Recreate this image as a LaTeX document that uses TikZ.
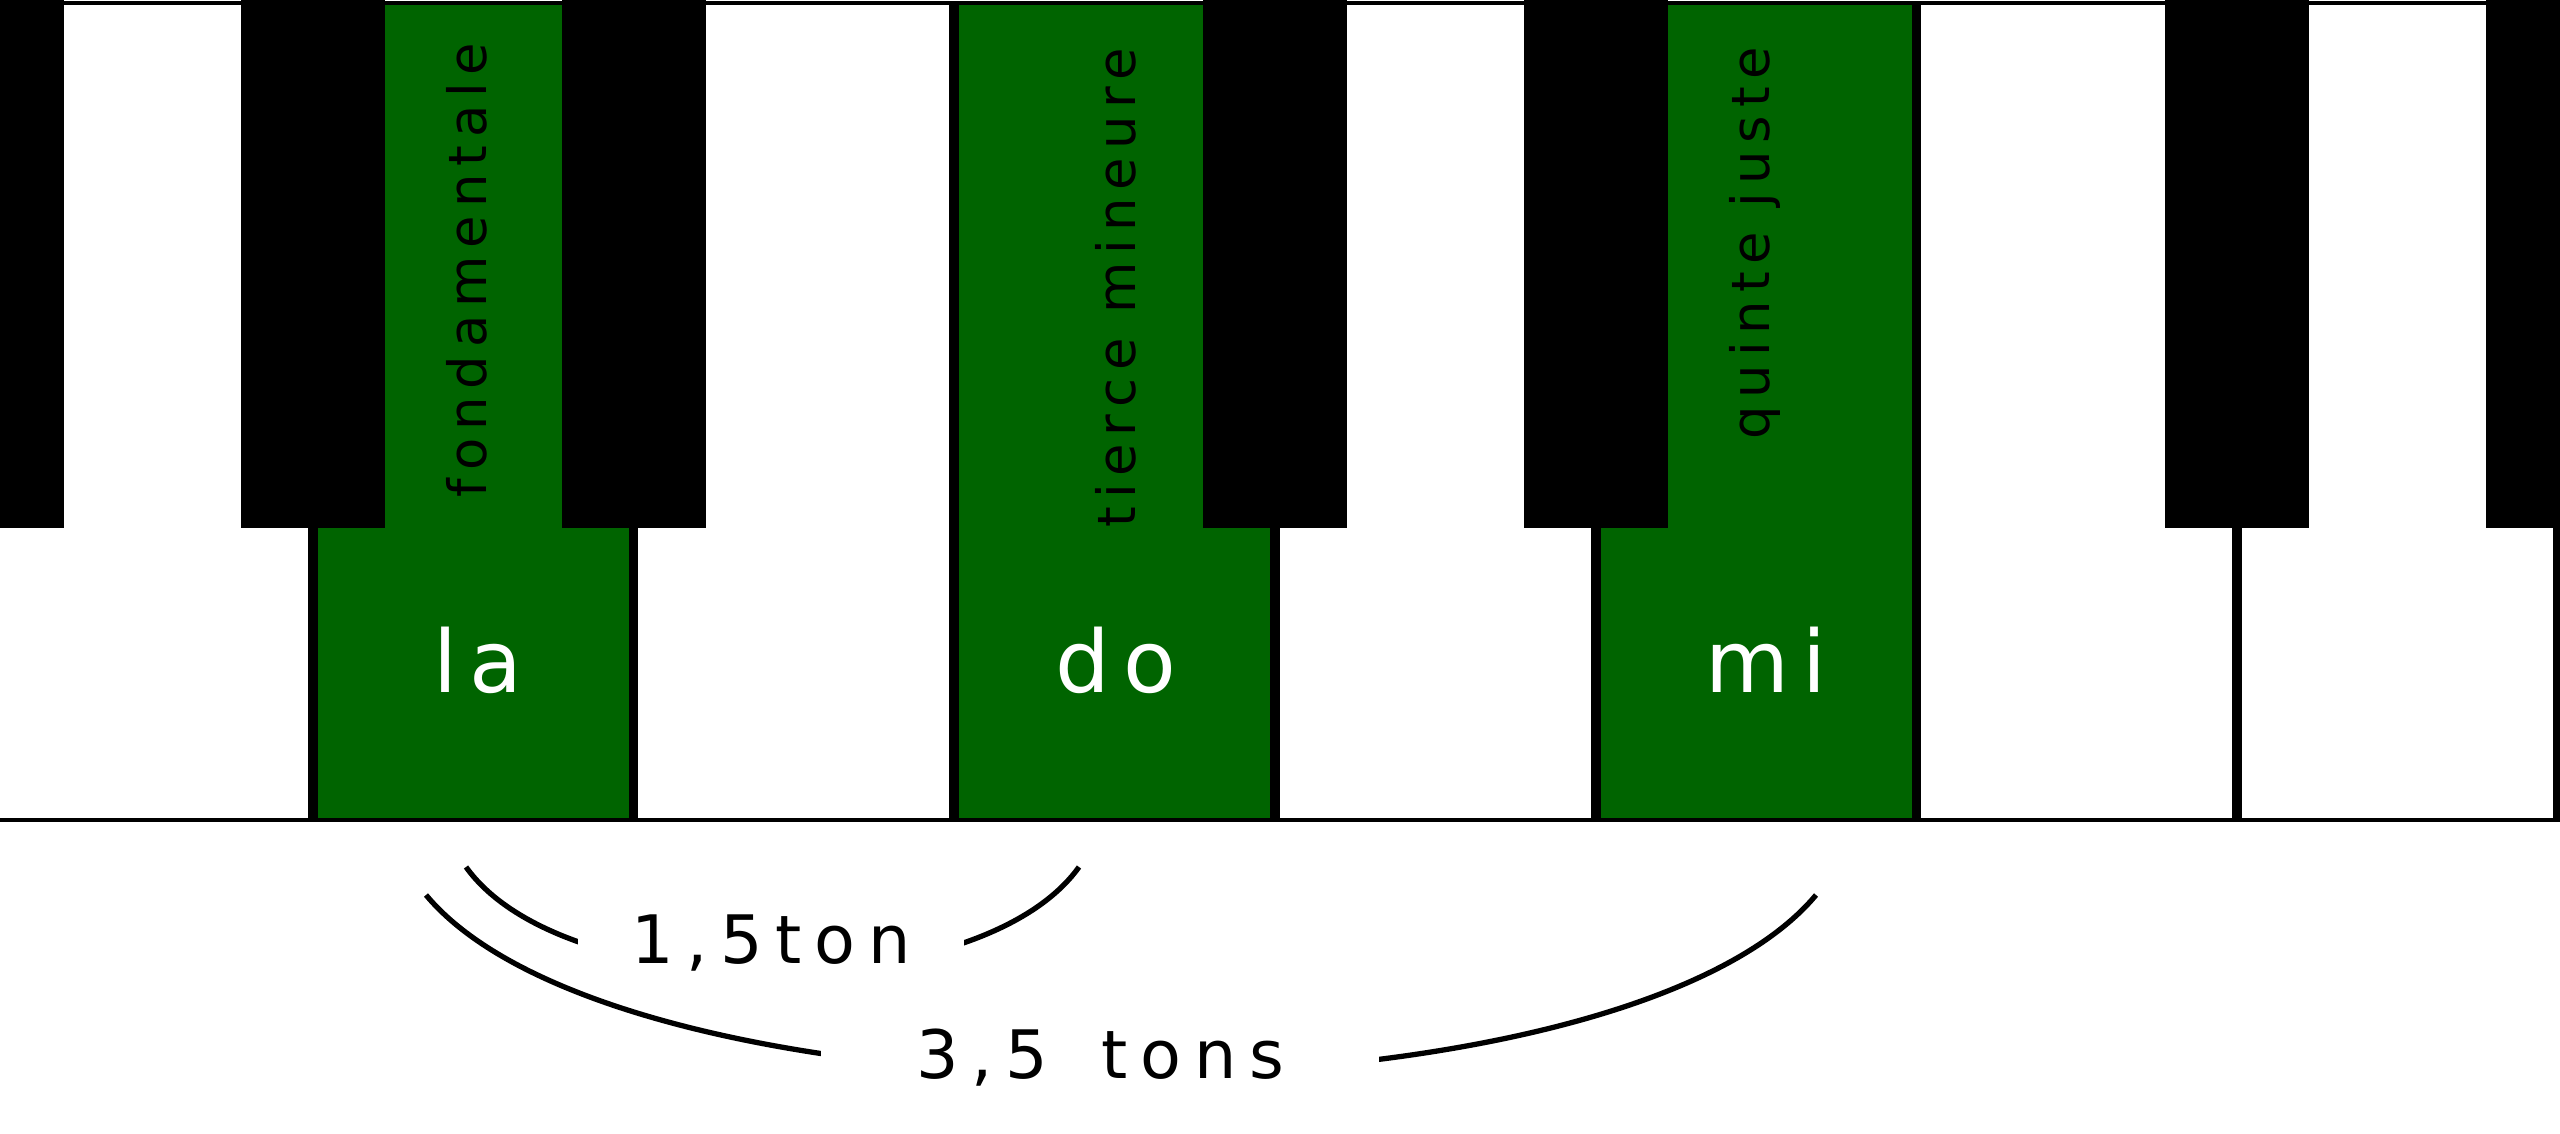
\documentclass[tikz,border=0pt]{standalone}
\usepackage{fontspec}
\setmainfont{DejaVu Sans}
\newfontfamily\notafont[LetterSpace=15]{DejaVu Sans}
\newfontfamily\intfont[LetterSpace=19]{DejaVu Sans}
\definecolor{verde}{RGB}{0,100,0}

\begin{document}
\begin{tikzpicture}[x=0.01cm, y=-0.01cm,
  blanca/.style={draw=black, line width=1.4pt},
  negra/.style={fill=black},
  nota/.style={text=white, font=\notafont\fontsize{24.5}{29}\selectfont, inner sep=0pt, anchor=base},
  grado/.style={font=\notafont\fontsize{15}{18}\selectfont, rotate=90, anchor=base east, inner sep=0pt},
  intervalo/.style={fill=white, font=\intfont\fontsize{19}{23}\selectfont, anchor=base, inner ysep=2pt},
  arco/.style={line width=1.5pt}]

  % Marco
  \useasboundingbox (0,0) rectangle (2560,1134);
  \clip (0,0) rectangle (2560,1134);
  \fill[white] (0,0) rectangle (2560,1134);

  % Teclas blancas (sol la si do re mi fa sol)
  \foreach \i/\c in {0/white,1/verde,2/white,3/verde,4/white,5/verde,6/white,7/white}
    \filldraw[blanca, fill=\c] ({-8+320.75*\i},3) rectangle ({-8+320.75*(\i+1)},820);
  \foreach \i in {1,...,8}
    \draw[line width=2.8pt] ({-8+320.75*\i},3) -- ({-8+320.75*\i},820);

  % Teclas negras
  \foreach \i in {0,1,2,4,5,7,8}
    \fill[negra] ({-8+320.75*\i-72},-5) rectangle ({-8+320.75*\i+72},528);

  % Notas
  \node[nota] (la) at (478,693) {la};
  \node[nota] (do) at (1116,693) {do};
  \node[nota] (mi) at (1766,693) {mi};

  % Grados
  \node[grado] (fund) at (486,42) {fondamentale};
  \node[grado] (tierce) at (1135,47) {tierce mineure};
  \node[grado] (quinte) at (1769,46) {quinte juste};

  % Intervalos
  \coordinate (la1) at (466,867);
  \coordinate (do1) at (1079,867);
  \coordinate (la2) at (426,895);
  \coordinate (mi2) at (1816,895);
  \draw[arco] (la1) .. controls (566,1007) and (979,1007) .. (do1);
  \draw[arco] (la2) .. controls (626,1135) and (1616,1135) .. (mi2);
  \node[intervalo, inner xsep=0.53cm] (ton) at (771,963) {1,5ton};
  \node[intervalo, inner xsep=0.95cm] (tons) at (1100,1078) {3,5\hspace{0.3em} tons};
\end{tikzpicture}
\end{document}
